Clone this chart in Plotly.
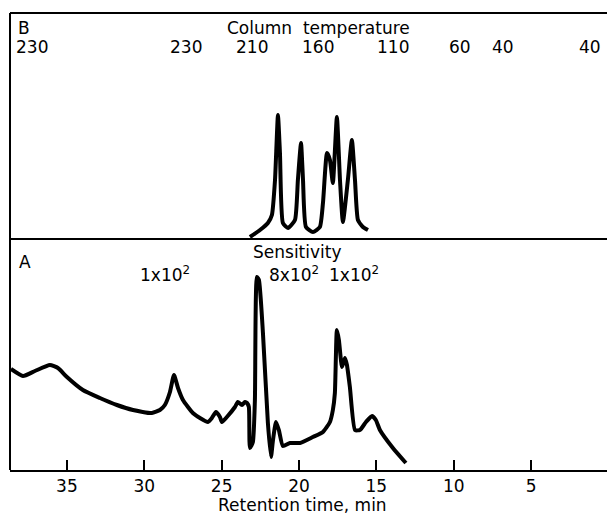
import plotly.graph_objects as go

# ---- data ----
# Chromatogram A: retention time (min) and detector response (arb. units)
time_a = [38.62, 37.84, 37.07, 36.10, 35.58, 35.00, 33.97, 32.87, 31.77, 30.73,
          29.51, 28.99, 28.67, 28.34, 28.08, 27.82, 27.50, 26.86, 26.40, 25.89,
          25.63, 25.37, 25.11, 24.98, 24.66, 24.14, 23.95, 23.69, 23.49, 23.36,
          23.24, 23.17, 22.98, 22.85, 22.72, 22.59, 22.33, 22.01, 21.81, 21.68,
          21.49, 21.30, 21.04, 20.58, 19.94, 19.10, 18.45, 18.00, 17.81, 17.68,
          17.55, 17.42, 17.22, 17.03, 16.90, 16.71, 16.38, 16.06, 15.67, 15.28,
          15.03, 14.77, 13.93, 13.09]
signal_a = [101, 94, 99, 105, 102, 93, 80, 72, 65, 60,
            57, 60, 65, 78, 95, 82, 70, 57, 52, 48,
            52, 58, 53, 48, 53, 63, 68, 65, 68, 67,
            63, 22, 28, 70, 193, 190, 137, 47, 13, 30,
            48, 40, 24, 27, 27, 33, 38, 48, 60, 77,
            140, 130, 103, 112, 105, 83, 40, 40, 48, 54,
            50, 40, 22, 7]

# Chromatogram B
time_b = [23.17, 22.52, 22.01, 21.75, 21.55, 21.36, 21.23, 21.04, 20.71, 20.26,
          20.07, 19.87, 19.74, 19.55, 19.10, 18.65, 18.45, 18.19, 18.00, 17.81,
          17.55, 17.35, 17.16, 16.84, 16.58, 16.38, 16.19, 15.87, 15.54]
signal_b = [2, 9, 16, 24, 59, 124, 86, 16, 11, 19,
            59, 96, 59, 12, 7, 12, 36, 86, 79, 56,
            122, 59, 17, 59, 99, 59, 19, 12, 9]

# Axis ticks
tick_times = [35, 30, 25, 20, 15, 10, 5]
tick_labels = ["35", "30", "25", "20", "15", "10", "5"]

# Column temperature programme labels (deg C) and the retention time they are printed at
temp_labels = ["230", "230", "210", "160", "110", "60", "40", "40"]
temp_times = [37.26, 27.31, 23.04, 18.77, 13.93, 9.60, 6.82, 1.19]

# Sensitivity labels and the retention time they are printed at
sens_labels = ["1x10<sup>2</sup>", "8x10<sup>2</sup>", "1x10<sup>2</sup>"]
sens_times = [28.63, 20.35, 16.47]

# ---- geometry ----
W, H = 607, 515
ML, MR, MT, MB = 10, 0, 13, 45
PH = H - MT - MB
X_RANGE = [38.68, 0.09]
SPLIT = (470 - 239) / PH  # divider between panels (paper fraction)

def py(px):
    """pixel y -> paper fraction"""
    return (H - MB - px) / PH

FONT = "DejaVu Sans"
fs = 17

fig = go.Figure()
fig.add_trace(go.Scatter(x=time_a, y=signal_a, mode="lines",
                         line=dict(color="black", width=4, shape="spline", smoothing=0.5),
                         xaxis="x", yaxis="y", hoverinfo="skip"))
fig.add_trace(go.Scatter(x=time_b, y=signal_b, mode="lines",
                         line=dict(color="black", width=4, shape="spline", smoothing=0.5),
                         xaxis="x", yaxis="y2", hoverinfo="skip"))

annotations = []
annotations.append(dict(text="B", x=0.023, y=py(28), xref="paper", yref="paper",
                        showarrow=False, xanchor="center", yanchor="middle",
                        font=dict(size=fs, family=FONT, color="black")))
annotations.append(dict(text="Column  temperature", x=18.77, y=py(28), xref="x", yref="paper",
                        showarrow=False, xanchor="center", yanchor="middle",
                        font=dict(size=fs, family=FONT, color="black")))
for lab, t in zip(temp_labels, temp_times):
    annotations.append(dict(text=lab, x=t, y=py(47), xref="x", yref="paper",
                            showarrow=False, xanchor="center", yanchor="middle",
                            font=dict(size=fs, family=FONT, color="black")))
annotations.append(dict(text="A", x=0.025, y=py(262), xref="paper", yref="paper",
                        showarrow=False, xanchor="center", yanchor="middle",
                        font=dict(size=fs, family=FONT, color="black")))
annotations.append(dict(text="Sensitivity", x=20.1, y=py(252), xref="x", yref="paper",
                        showarrow=False, xanchor="center", yanchor="middle",
                        font=dict(size=fs, family=FONT, color="black")))
for lab, t in zip(sens_labels, sens_times):
    annotations.append(dict(text=lab, x=t, y=py(274), xref="x", yref="paper",
                            showarrow=False, xanchor="center", yanchor="middle",
                            font=dict(size=fs, family=FONT, color="black")))
annotations.append(dict(text="Retention time, min", x=(302 - ML) / (W - ML - MR), y=py(505),
                        xref="paper", yref="paper", showarrow=False,
                        xanchor="center", yanchor="middle",
                        font=dict(size=fs, family=FONT, color="black")))

shapes = [
    dict(type="line", xref="paper", yref="paper", x0=0, x1=0, y0=0, y1=1,
         line=dict(color="black", width=2)),
    dict(type="line", xref="paper", yref="paper", x0=0, x1=1, y0=1, y1=1,
         line=dict(color="black", width=2)),
    dict(type="line", xref="paper", yref="paper", x0=0, x1=1, y0=SPLIT, y1=SPLIT,
         line=dict(color="black", width=2)),
]

fig.update_layout(
    width=W, height=H,
    margin=dict(l=ML, r=MR, t=MT, b=MB),
    paper_bgcolor="white", plot_bgcolor="white",
    showlegend=False,
    xaxis=dict(range=X_RANGE, showgrid=False, zeroline=False,
               showline=True, linecolor="black", linewidth=2,
               ticks="inside", ticklen=10, tickwidth=1.5, tickcolor="black",
               tickvals=tick_times, ticktext=tick_labels,
               tickfont=dict(size=fs, family=FONT, color="black"),
               anchor="y"),
    yaxis=dict(domain=[0, SPLIT], range=[0, 231], visible=False),
    yaxis2=dict(domain=[SPLIT, 1], range=[0, 226], visible=False, anchor="x"),
    annotations=annotations,
    shapes=shapes,
)

fig.write_html("out.html")
